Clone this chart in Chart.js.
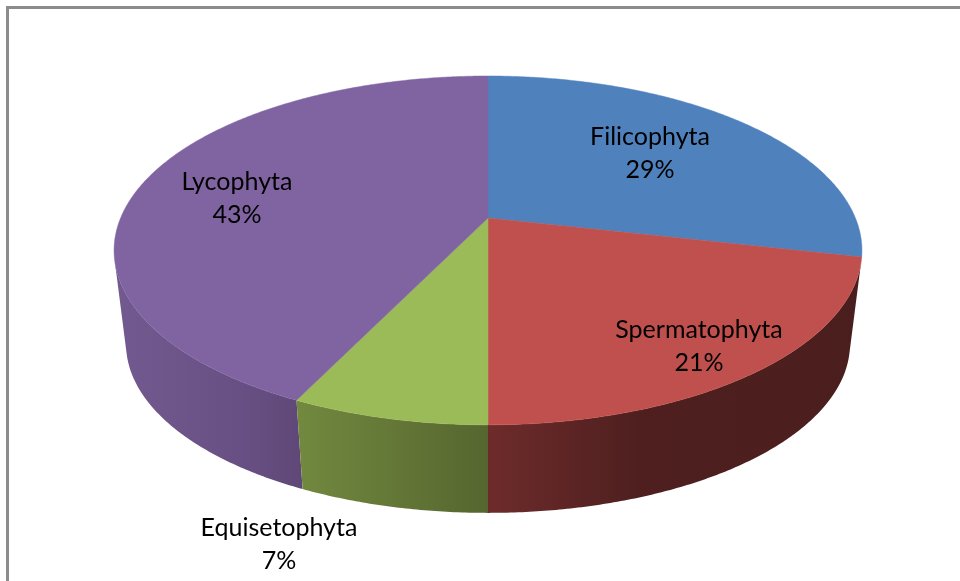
<!DOCTYPE html>
<html>
<head>
<meta charset="utf-8">
<script src="https://cdn.jsdelivr.net/npm/chart.js@4"></script>
<style>
html,body{margin:0;padding:0;background:#fff;width:960px;height:581px;overflow:hidden}
#wrap{position:relative;width:960px;height:581px}
#frame{position:absolute;left:6px;top:6px;width:970px;height:600px;border:3px solid #8c8c8c;box-sizing:border-box}
canvas{position:absolute;left:0;top:0}
</style>
</head>
<body>
<div id="wrap"><div id="frame"></div><canvas id="c" width="960" height="581"></canvas></div>
<script>
const categories = ["Filicophyta", "Spermatophyta", "Equisetophyta", "Lycophyta"];
const counts = [4, 3, 1, 6];
const topColors = ["#4f81bd", "#c0504d", "#9bbb59", "#8064a2"];
const labelCentres = [[650, 137], [699, 330], [279, 528], [237, 182]];

const wallStops = [
  [[0, "#2a4a70"], [1, "#2a4a70"]],
  [[0, "#6e2b2b"], [0.4, "#4f1f1f"], [1, "#4b1e1e"]],
  [[0, "#72893f"], [1, "#56662f"]],
  [[0, "#72598f"], [0.7, "#684f83"], [1, "#5f4877"]]
];

const apexX = 488, apexY = 218, halfW = 367.4, halfD = 168.4, persp = 0.186;
const vanishY = 3175, shrink = 0.968;

function rim(angle, lower) {
  const u = Math.cos(angle), v = Math.sin(angle), w = 1 - persp * v;
  let x = apexX + halfW * u / w, y = apexY + halfD * v / w;
  if (lower) { x = apexX + (x - apexX) * shrink; y = vanishY + (y - vanishY) * shrink; }
  return [x, y];
}

const pie3d = {
  id: "pie3d",
  beforeDatasetsDraw(chart) {
    const ctx = chart.ctx, arcs = chart.getDatasetMeta(0).data;
    const step = Math.PI / 360;
    [0, 3, 1, 2].forEach(i => {
      const a = arcs[i];
      let minX = 1e9, maxX = -1e9;
      ctx.beginPath();
      const n = Math.ceil((a.endAngle - a.startAngle) / step);
      for (let k = 0; k < n; k++) {
        const t0 = a.startAngle + (a.endAngle - a.startAngle) * k / n;
        const t1 = a.startAngle + (a.endAngle - a.startAngle) * (k + 1) / n;
        const p0 = rim(t0), p1 = rim(t1), q1 = rim(t1, true), q0 = rim(t0, true);
        const cross = (p1[0] - p0[0]) * (q0[1] - p0[1]) - (p1[1] - p0[1]) * (q0[0] - p0[0]);
        if (cross >= 0) continue;
        ctx.moveTo(p0[0], p0[1]); ctx.lineTo(p1[0], p1[1]); ctx.lineTo(q1[0], q1[1]); ctx.lineTo(q0[0], q0[1]); ctx.closePath();
        minX = Math.min(minX, p0[0], p1[0], q0[0], q1[0]);
        maxX = Math.max(maxX, p0[0], p1[0], q0[0], q1[0]);
      }
      if (minX > maxX) return;
      const g = ctx.createLinearGradient(minX, 0, maxX, 0);
      wallStops[i].forEach(s => g.addColorStop(s[0], s[1]));
      ctx.fillStyle = g;
      ctx.fill();
    });
    arcs.forEach((a, i) => {
      ctx.beginPath();
      ctx.moveTo(apexX, apexY);
      const n = Math.ceil((a.endAngle - a.startAngle) / step);
      for (let k = 0; k <= n; k++) {
        const p = rim(a.startAngle + (a.endAngle - a.startAngle) * k / n);
        ctx.lineTo(p[0], p[1]);
      }
      ctx.closePath();
      ctx.fillStyle = topColors[i];
      ctx.fill();
      ctx.strokeStyle = topColors[i];
      ctx.lineWidth = 0.5;
      ctx.stroke();
    });
    return false;
  },
  afterDraw(chart) {
    const ctx = chart.ctx;
    const total = counts.reduce((s, v) => s + v, 0);
    ctx.save();
    ctx.fillStyle = "#000";
    ctx.textAlign = "center";
    ctx.textBaseline = "middle";
    ctx.font = '25px Lato, sans-serif';
    categories.forEach((name, i) => {
      const [x, y] = labelCentres[i];
      ctx.fillText(name, x, y);
      ctx.fillText(Math.round(counts[i] / total * 100) + "%", x, y + 33);
    });
    ctx.restore();
  }
};

new Chart(document.getElementById("c"), {
  type: "pie",
  data: { labels: categories, datasets: [{ data: counts, backgroundColor: topColors, borderWidth: 0 }] },
  options: {
    responsive: false,
    animation: false,
    layout: { padding: 0 },
    plugins: { legend: { display: false }, tooltip: { enabled: false }, title: { display: false } }
  },
  plugins: [pie3d]
});
</script>
</body>
</html>
